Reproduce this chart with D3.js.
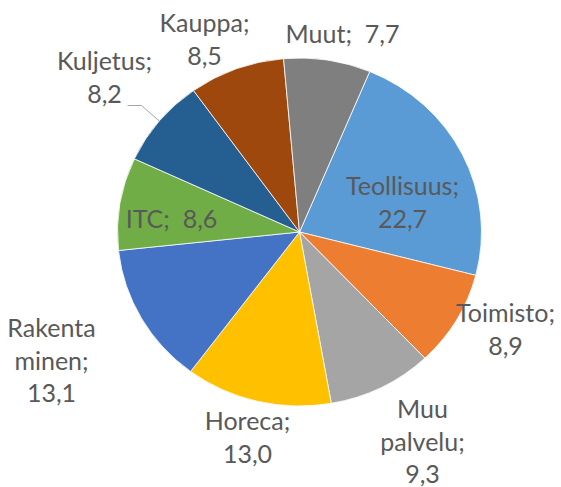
<!DOCTYPE html>
<html>
<head>
<meta charset="utf-8">
<script src="https://cdn.jsdelivr.net/npm/d3@7"></script>
<style>
  body { margin: 0; background: #fff; }
  text { font-family: Lato, "Open Sans", sans-serif; fill: #595959; white-space: pre; }
</style>
</head>
<body>
<script>
/* Data */
const categories = ["Teollisuus", "Toimisto", "Muu palvelu", "Horeca", "Rakentaminen", "ITC", "Kuljetus", "Kauppa", "Muut"];
const values = [22.7, 8.9, 9.3, 13.0, 13.1, 8.6, 8.2, 8.5, 7.7];
const colors = ["#5b9bd5", "#ed7d31", "#a5a5a5", "#ffc000", "#4472c4", "#70ad47", "#255e91", "#9e480e", "#7f7f7f"];

/* Label layout: offset of first baseline from pie centre, and how the text wraps */
const labelLayout = {
  "Teollisuus":   { dx: 103, dy: -37, split: null },
  "Toimisto":     { dx: 206, dy: 90,  split: null },
  "Muu palvelu":  { dx: 123, dy: 186, split: 3 },
  "Horeca":       { dx: -52, dy: 198, split: null },
  "Rakentaminen": { dx: -248, dy: 105, split: 7 },
  "ITC":          { dx: -128, dy: -4, inline: true },
  "Kuljetus":     { dx: -195, dy: -162, split: null },
  "Kauppa":       { dx: -95, dy: -200, split: null },
  "Muut":         { dx: 43, dy: -189, inline: true }
};

/* Constants */
const w = 561;
const h = 487;
const cx = 299.5, cy = 232;
const rx = 182, ry = 174;
const lineH = 32.5;
const startDeg = 22.7;

const svg = d3.select("body")
  .append("svg")
  .attr("width", w)
  .attr("height", h);

const data = categories.map((c, i) => ({ name: c, value: values[i], color: colors[i] }));

const pie = d3.pie()
  .sort(null)
  .value(d => d.value)
  .startAngle(startDeg * Math.PI / 180)
  .endAngle(startDeg * Math.PI / 180 + 2 * Math.PI);

const arc = d3.arc().innerRadius(0).outerRadius(rx);
const arcs = pie(data);

/* Slices (image is slightly squashed vertically) */
const g = svg.append("g")
  .attr("transform", "translate(" + cx + "," + cy + ") scale(1," + (ry / rx) + ")");

g.selectAll("path")
  .data(arcs)
  .enter()
  .append("path")
  .attr("d", arc)
  .attr("fill", d => d.data.color)
  .attr("stroke", "#fff")
  .attr("stroke-width", 0.8);

/* Leader line for Kuljetus */
const fmt = v => d3.format(".1f")(v).replace(".", ",");
const kul = arcs[categories.indexOf("Kuljetus")];
const mid = (kul.startAngle + kul.endAngle) / 2;
const ex = cx + rx * Math.sin(mid);
const ey = cy - ry * Math.cos(mid);
const kl = labelLayout["Kuljetus"];
const lx = cx + kl.dx + 23, ly = cy + kl.dy + lineH + 3;
svg.append("polyline")
  .attr("points", [[lx, ly], [lx + 14, ly], [ex, ey]].map(p => p.join(",")).join(" "))
  .attr("fill", "none")
  .attr("stroke", "#a6a6a6")
  .attr("stroke-width", 1);

/* Labels */
arcs.forEach(a => {
  const name = a.data.name;
  const lay = labelLayout[name];
  let lines;
  if (lay.inline) {
    lines = [name + ";  " + fmt(a.data.value)];
  } else if (lay.split) {
    lines = [name.slice(0, lay.split).trim(), name.slice(lay.split).trim() + ";", fmt(a.data.value)];
  } else {
    lines = [name + ";", fmt(a.data.value)];
  }
  const t = svg.append("text")
    .attr("text-anchor", "middle")
    .attr("font-size", 25);
  lines.forEach((s, i) => {
    t.append("tspan")
      .attr("x", cx + lay.dx)
      .attr("y", cy + lay.dy + i * lineH)
      .text(s);
  });
});
</script>
</body>
</html>
